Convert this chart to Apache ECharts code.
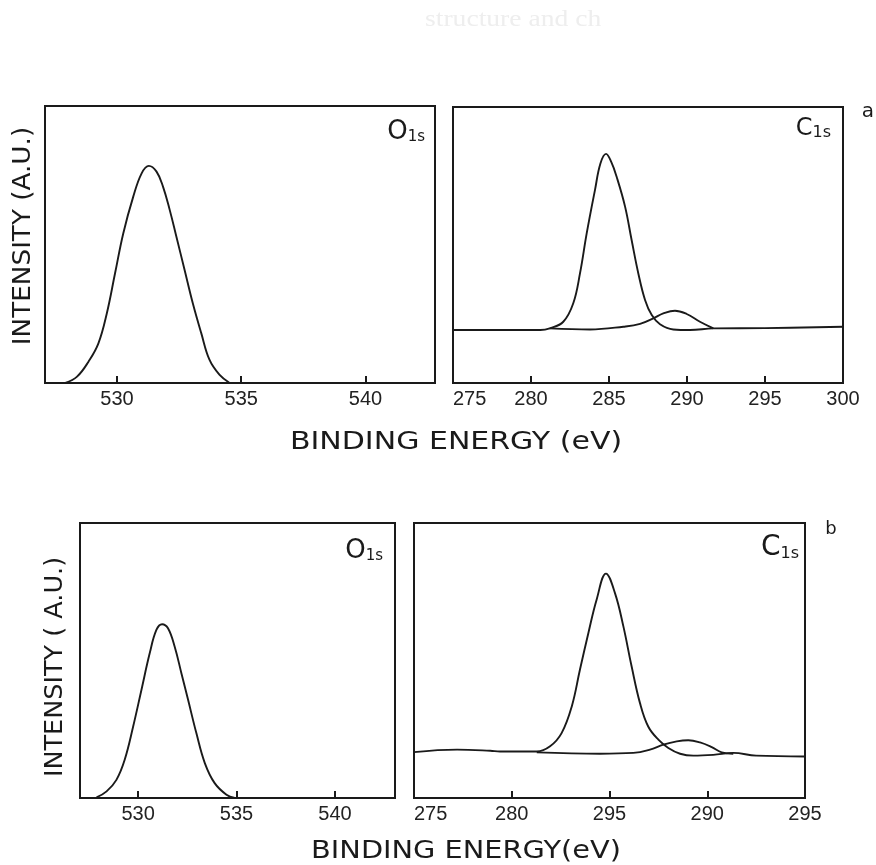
<!DOCTYPE html>
<html>
<head>
<meta charset="utf-8">
<script src="https://cdn.jsdelivr.net/npm/echarts@6/dist/echarts.min.js"></script>
<style>
  html, body { margin: 0; padding: 0; background: #fff; }
  #chart { width: 876px; height: 865px; }
</style>
</head>
<body>
<div id="chart"></div>
<script>
// ---------- DATA ----------
// Panel a, O1s
const o1sA_E = [527.92, 528.39, 528.85, 529.25, 529.59, 529.92, 530.25, 530.65, 530.99, 531.28, 531.59, 531.85, 532.12, 532.39, 532.72, 533.05, 533.39, 533.72, 534.12, 534.52];
const o1sA_I = [0.0, 2.3, 7.7, 14.3, 25.2, 39.6, 54.0, 67.2, 75.7, 78.4, 76.3, 70.9, 62.5, 52.8, 40.8, 28.8, 18.0, 8.4, 3.0, 0.1];

// Panel a, C1s main component (with baseline)
const c1sA_mainE = [275, 277.5, 280, 280.6, 281.2, 282.07, 282.71, 283.14, 283.57, 284.1, 284.45, 284.81, 285.15, 285.49, 286.03, 286.45, 286.88, 287.31, 287.74, 288.27, 289.12, 290.19, 291.69, 295, 300];
const c1sA_mainI = [19.2, 19.2, 19.2, 19.2, 19.8, 22.2, 28.9, 39.7, 54.2, 69.9, 79.5, 83.0, 80.0, 74.7, 63.9, 51.8, 39.7, 30.1, 24.6, 21.3, 19.4, 19.2, 19.8, 19.9, 20.4];
// Panel a, C1s second component
const c1sA_subE = [281.2, 283.78, 285.92, 286.99, 287.84, 288.48, 289.23, 289.98, 290.83, 291.69];
const c1sA_subI = [19.8, 19.4, 20.4, 21.4, 23.4, 25.2, 26.2, 25.0, 22.2, 19.8];

// Panel b, O1s
const o1sB_E = [527.89, 528.40, 528.90, 529.32, 529.75, 530.17, 530.59, 530.93, 531.22, 531.52, 531.86, 532.20, 532.54, 532.96, 533.39, 533.89, 534.49, 534.91];
const o1sB_I = [0.2, 2.4, 6.6, 13.9, 26.0, 39.3, 52.6, 61.1, 63.2, 61.7, 55.0, 45.4, 35.7, 23.6, 12.7, 5.4, 1.2, 0.0];

// Panel b, C1s main component (with baseline)
const c1sB_mainE = [275, 277.2, 278.9, 279.4, 281.28, 281.96, 282.55, 283.07, 283.49, 283.92, 284.34, 284.82, 285.28, 285.71, 286.13, 286.56, 286.98, 287.5, 288.01, 288.61, 289.29, 290.31, 291.33, 292.5, 295];
const c1sB_mainI = [16.7, 17.6, 17.2, 16.9, 16.9, 18.8, 23.6, 33.3, 46.7, 60.0, 72.1, 81.6, 74.5, 62.4, 47.9, 34.5, 26.0, 21.2, 18.2, 16.1, 15.4, 15.7, 16.4, 15.4, 15.1];
// Panel b, C1s second component
const c1sB_subE = [281.28, 284.51, 286.22, 287.07, 287.75, 288.44, 289.03, 289.63, 290.23, 290.74, 291.33];
const c1sB_subI = [16.6, 16.1, 16.4, 17.6, 19.4, 20.6, 21.0, 20.2, 18.5, 16.6, 16.1];

// Tick values and tick labels
const o1sTicks = [530, 535, 540];
const c1sA_tickMarks = [280, 285, 290, 295];
const c1sA_labels = [275, 280, 285, 290, 295, 300];
const c1sB_tickMarks = [280, 285, 290];
const c1sB_labelValues = [275, 280, 285, 290, 295];
const c1sB_labelTexts = ['275', '280', '295', '290', '295'];

// Text
const xTitleA = 'BINDING ENERGY (eV)';
const xTitleB = 'BINDING ENERGY(eV)';
const yTitleA = 'INTENSITY (A.U.)';
const yTitleB = 'INTENSITY ( A.U.)';

// ---------- CHART ----------
const pairs = (xs, ys) => xs.map((x, i) => [x, ys[i]]);
const INK = '#1a1a1a';
const FONT = "'DejaVu Sans', sans-serif";
const NUMFONT = "'Liberation Sans', sans-serif";

const grids = [
  { left: 45,  top: 106, width: 390, height: 277 },
  { left: 453, top: 107, width: 390, height: 276 },
  { left: 80,  top: 523, width: 315, height: 275 },
  { left: 414, top: 523, width: 391, height: 275 }
].map(g => Object.assign(g, { show: true, borderColor: INK, borderWidth: 2, backgroundColor: 'transparent' }));

function xAxis(gi, min, max, tickVals, labelVals) {
  return {
    gridIndex: gi, type: 'value', min: min, max: max,
    axisLine: { show: false },
    splitLine: { show: false },
    axisTick: { show: true, inside: true, length: 7, customValues: tickVals, lineStyle: { color: INK, width: 2 } },
    axisLabel: { show: true, customValues: labelVals, color: '#222', fontSize: 20, fontFamily: NUMFONT, margin: 6,
                 showMinLabel: true, showMaxLabel: true }
  };
}
function yAxis(gi) {
  return { gridIndex: gi, type: 'value', min: 0, max: 100, axisLine: { show: false }, axisTick: { show: false },
           axisLabel: { show: false }, splitLine: { show: false } };
}

const xAxes = [
  xAxis(0, 527.1, 542.8, o1sTicks, o1sTicks),
  xAxis(1, 275, 300, c1sA_tickMarks, c1sA_labels),
  xAxis(2, 527.05, 543.05, o1sTicks, o1sTicks),
  xAxis(3, 275, 295, c1sB_tickMarks, c1sB_labelValues)
];
xAxes[1].axisLabel.alignMinLabel = 'left';
xAxes[3].axisLabel.alignMinLabel = 'left';
xAxes[3].axisLabel.formatter = function (v) {
  const k = c1sB_labelValues.indexOf(Math.round(v));
  return k >= 0 ? c1sB_labelTexts[k] : '';
};

function line(gi, data) {
  return { type: 'line', xAxisIndex: gi, yAxisIndex: gi, data: data, smooth: 0.4, symbol: 'none',
           lineStyle: { color: INK, width: 1.9 }, silent: true, animation: false };
}

function panelLabel(letter, right, bottom, big, small) {
  return {
    type: 'text', x: right, y: bottom,
    style: {
      text: '{m|' + letter + '}{s|1s}',
      textAlign: 'right', textVerticalAlign: 'bottom',
      fill: INK, fontFamily: FONT,
      rich: {
        m: { fontSize: big, fontFamily: FONT, fill: INK, verticalAlign: 'bottom' },
        s: { fontSize: small, fontFamily: FONT, fill: INK, verticalAlign: 'bottom' }
      }
    }
  };
}

const option = {
  backgroundColor: '#fff',
  animation: false,
  grid: grids,
  xAxis: xAxes,
  yAxis: [yAxis(0), yAxis(1), yAxis(2), yAxis(3)],
  series: [
    line(0, pairs(o1sA_E, o1sA_I)),
    line(1, pairs(c1sA_mainE, c1sA_mainI)),
    line(1, pairs(c1sA_subE, c1sA_subI)),
    line(2, pairs(o1sB_E, o1sB_I)),
    line(3, pairs(c1sB_mainE, c1sB_mainI)),
    line(3, pairs(c1sB_subE, c1sB_subI))
  ],
  graphic: [
    { type: 'text', x: 425, y: 20, scaleX: 1.2, style: { text: 'structure and ch', fill: '#eeeeee', fontSize: 23, fontFamily: "'Liberation Serif', serif", textAlign: 'left', textVerticalAlign: 'middle' } },
    { type: 'text', x: 456, y: 442, scaleX: 1.2, style: { text: xTitleA, fill: INK, fontSize: 25, fontFamily: FONT, textAlign: 'center', textVerticalAlign: 'middle' } },
    { type: 'text', x: 466, y: 852, scaleX: 1.2, style: { text: xTitleB, fill: INK, fontSize: 24, fontFamily: FONT, textAlign: 'center', textVerticalAlign: 'middle' } },
    { type: 'text', x: 23, y: 236, rotation: Math.PI / 2, scaleX: 1.05, style: { text: yTitleA, fill: INK, fontSize: 25, fontFamily: FONT, textAlign: 'center', textVerticalAlign: 'middle' } },
    { type: 'text', x: 55, y: 667, rotation: Math.PI / 2, scaleX: 1.02, style: { text: yTitleB, fill: INK, fontSize: 25, fontFamily: FONT, textAlign: 'center', textVerticalAlign: 'middle' } },
    panelLabel('O', 425, 145, 26, 15),
    panelLabel('C', 831, 141, 24, 16),
    panelLabel('O', 383, 564, 26, 15),
    panelLabel('C', 799, 562, 28, 16),
    { type: 'text', x: 868, y: 112, style: { text: 'a', fill: INK, fontSize: 20, fontFamily: FONT, textAlign: 'center', textVerticalAlign: 'middle' } },
    { type: 'text', x: 831, y: 529, style: { text: 'b', fill: INK, fontSize: 18, fontFamily: FONT, textAlign: 'center', textVerticalAlign: 'middle' } }
  ]
};

const chart = echarts.init(document.getElementById('chart'), null, { renderer: 'canvas', width: 876, height: 865 });
chart.setOption(option);
</script>
</body>
</html>
